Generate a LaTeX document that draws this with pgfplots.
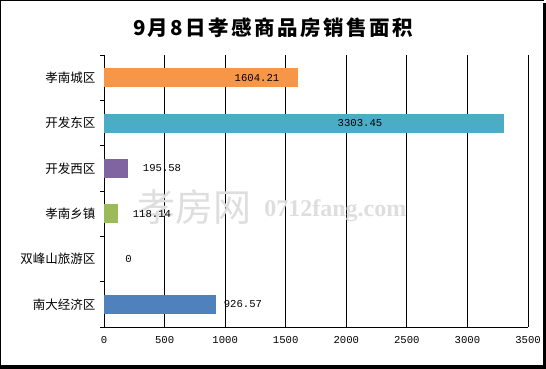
\documentclass[border=0pt]{standalone}
\usepackage{pgfplots}
\pgfplotsset{compat=1.18}
\usepackage{fontspec}
\setmainfont{Noto Sans CJK SC}
\newfontfamily\numfont{Liberation Mono}
\newfontfamily\titlefont[LetterSpace=12]{Noto Sans CJK SC}
\newfontfamily\wmfont{Liberation Serif}
\definecolor{cOrange}{HTML}{F79646}
\definecolor{cTeal}{HTML}{4BACC6}
\definecolor{cPurple}{HTML}{8064A2}
\definecolor{cGreen}{HTML}{9BBB59}
\definecolor{cBlue}{HTML}{4F81BD}
\begin{document}
\begin{tikzpicture}[x=1pt,y=1pt]
\useasboundingbox (0,0) rectangle (546,369);
\begin{axis}[
  at={(104pt,42pt)}, anchor=south west, scale only axis,
  width=424pt, height=272pt,
  xmin=0, xmax=3500, ymin=-0.5, ymax=5.5,
  xtick={0,500,...,3500},
  ytick={0,...,5},
  yticklabels={南大经济区,双峰山旅游区,孝南乡镇,开发西区,开发东区,孝南城区},
  minor ytick={-0.5,0.5,...,5.5},
  axis x line*=bottom, axis y line*=left,
  axis line style={-, black, line width=0.8pt},
  xmajorgrids, grid style={black, line width=0.8pt},
  major tick length=0pt, minor tick length=4pt, tick align=outside,
  minor y tick style={black, line width=0.8pt},
  /pgf/number format/assume math mode=true,
  /pgf/number format/1000 sep={},
  scaled x ticks=false,
  xticklabel style={font=\numfont\fontsize{10.6}{12}\selectfont, yshift=-6pt},
  yticklabel style={font=\fontsize{12.5}{14}\selectfont, xshift=-5pt},
  xbar, bar width=19pt, bar shift=0pt,
]
\addplot[fill=cBlue, draw=none] coordinates {(926.57,0)};
\addplot[fill=cGreen, draw=none] coordinates {(118.14,2)};
\addplot[fill=cPurple, draw=none] coordinates {(195.58,3)};
\addplot[fill=cTeal, draw=none] coordinates {(3303.45,4)};
\addplot[fill=cOrange, draw=none] coordinates {(1604.21,5)};
\node[text=black!13, font=\fontsize{38}{40}\selectfont] at (axis cs:750,2.15) {孝房网};
\node[text=black!13, font=\wmfont\bfseries\fontsize{24}{26}\selectfont, anchor=west] at (axis cs:1295,2.07) {0712fang.com};
\begin{scope}[every node/.style={font=\numfont\fontsize{10.6}{12}\selectfont}]
\node at (axis cs:1263,5) {1604.21};
\node at (axis cs:2113,4) {3303.45};
\node at (axis cs:479,3) {195.58};
\node at (axis cs:396,2) {118.14};
\node at (axis cs:202,1) {0};
\node at (axis cs:1147,0) {926.57};
\end{scope}
\end{axis}
\node[font=\titlefont\bfseries\fontsize{20.5}{24}\selectfont] at (273,341) {9月8日孝感商品房销售面积};
\draw[line width=1pt] (0.5,0) -- (0.5,368.5) -- (544,368.5);
\fill[black] (543,0) rectangle (546,366);
\fill[black] (0,0) rectangle (546,3.5);
\end{tikzpicture}
\end{document}
